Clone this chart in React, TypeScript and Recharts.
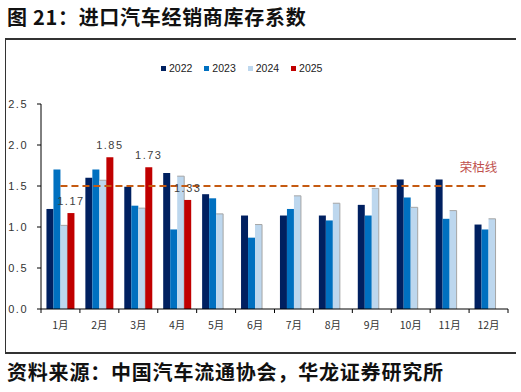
import React from 'react';
import {
  BarChart,
  Bar,
  XAxis,
  YAxis,
  ReferenceLine,
  LabelList,
  Legend
} from 'recharts';

const months = ['1月', '2月', '3月', '4月', '5月', '6月', '7月', '8月', '9月', '10月', '11月', '12月'];
const v2022 = [1.22, 1.6, 1.49, 1.66, 1.4, 1.14, 1.14, 1.14, 1.27, 1.58, 1.58, 1.03];
const v2023 = [1.7, 1.7, 1.26, 0.97, 1.35, 0.87, 1.22, 1.08, 1.14, 1.36, 1.1, 0.97];
const v2024 = [1.02, 1.57, 1.23, 1.62, 1.16, 1.03, 1.38, 1.29, 1.47, 1.24, 1.2, 1.1];
const v2025 = [1.17, 1.85, 1.73, 1.33];
const yTicks = [0, 0.5, 1, 1.5, 2, 2.5];
const threshold = 1.5;

const series = [
  { key: 'y2022', name: '2022', color: '#002060' },
  { key: 'y2023', name: '2023', color: '#0070C0' },
  { key: 'y2024', name: '2024', color: '#BDD7EE' },
  { key: 'y2025', name: '2025', color: '#C00000' }
];

const data = months.map((m, i) => ({
  month: m,
  y2022: v2022[i],
  y2023: v2023[i],
  y2024: v2024[i],
  y2025: i < v2025.length ? v2025[i] : null
}));

const W = 521;
const H = 392;
const margin = { top: 92, right: 13, bottom: 53, left: 8 };
const Y_AXIS_W = 33;
const band = (W - margin.left - margin.right - Y_AXIS_W) / months.length;

const MonthTick = ({ x, y, payload, index }: any) => {
  const left = x - band / 2;
  return (
    <g>
      <line x1={left} y1={y} x2={left} y2={y + 4} stroke="#000" />
      {index === months.length - 1 && (
        <line x1={x + band / 2} y1={y} x2={x + band / 2} y2={y + 4} stroke="#000" />
      )}
      <text x={x} y={y + 20} textAnchor="middle" fontSize={10.5} fill="#333"
        fontFamily="'Noto Sans CJK SC', sans-serif">
        {payload.value}
      </text>
    </g>
  );
};

const ValueTick = ({ x, y, payload }: any) => (
  <text x={x} y={y + 4} textAnchor="end" fontSize={11} fill="#333" letterSpacing={1.5}>
    {Number(payload.value).toFixed(1)}
  </text>
);

// light bars in the source have a grey edge on top and right
const LightBar = ({ x, y, width, height, fill }: any) => {
  if (!height || height <= 0) return null;
  return (
    <g>
      <rect x={x} y={y} width={width} height={height} fill={fill} />
      <path d={`M${x},${y} H${x + width} V${y + height}`} stroke="#A6A6A6" fill="none" />
    </g>
  );
};

const LegendBox = () => (
  <div style={{ display: 'flex', fontSize: 10.5, color: '#222', lineHeight: '12px' }}>
    {series.map((s) => (
      <div key={s.key} style={{ display: 'flex', alignItems: 'center', marginRight: 12 }}>
        <div style={{ width: 5, height: 5, background: s.color, marginRight: 3 }} />
        <span>{s.name}</span>
      </div>
    ))}
  </div>
);

const ThresholdLabel = (props: any) => {
  const vb = props.viewBox || { x: 60, y: 178, width: 428 };
  return (
    <text x={vb.x + vb.width - 10} y={vb.y - 14} textAnchor="middle" fontSize={12.5}
      fill="#C0504D" fontFamily="'Noto Sans CJK SC', sans-serif">
      荣枯线
    </text>
  );
};

export default function App() {
  return (
    <div style={{ position: 'absolute', left: 0, top: 0, width: W, height: H, background: '#fff',
      fontFamily: "'Liberation Sans', Arial, sans-serif" }}>
      <div style={{ position: 'absolute', left: 7, top: 2, fontSize: 20, fontWeight: 'bold',
        letterSpacing: 0.7, fontFamily: "'Noto Sans CJK SC', sans-serif", color: '#111', whiteSpace: 'nowrap' }}>
        图 21：进口汽车经销商库存系数
      </div>
      <div style={{ position: 'absolute', left: 5, top: 38, width: 510, height: 312,
        borderTop: '2px solid #333', borderLeft: '1.5px solid #333', borderBottom: '2px solid #333' }} />
      <div style={{ position: 'absolute', left: 0, top: 0 }}>
        <BarChart width={W} height={H} data={data} margin={margin}
          barCategoryGap="14%" barGap={0}>
          <XAxis dataKey="month" axisLine={{ stroke: '#000' }} tickLine={false}
            tickSize={0} tickMargin={0} interval={0} tick={<MonthTick />} height={30} />
          <YAxis domain={[0, 2.5]} ticks={yTicks} width={Y_AXIS_W}
            axisLine={{ stroke: '#000' }} tickLine={{ stroke: '#000' }} tickSize={4}
            tickMargin={9} tick={<ValueTick />} />
          <Legend content={<LegendBox />} verticalAlign="top"
            wrapperStyle={{ position: 'absolute', top: 62, left: 161, width: 'auto' }} />
          <Bar dataKey="y2022" name="2022" fill="#002060" isAnimationActive={false} />
          <Bar dataKey="y2023" name="2023" fill="#0070C0" isAnimationActive={false} />
          <Bar dataKey="y2024" name="2024" fill="#BDD7EE" shape={<LightBar />} isAnimationActive={false} />
          <Bar dataKey="y2025" name="2025" fill="#C00000" isAnimationActive={false}>
            <LabelList dataKey="y2025" position="top" offset={8} fontSize={11} fill="#404040"
              letterSpacing={1.5} formatter={(v: any) => (v == null ? '' : Number(v).toFixed(2))} />
          </Bar>
          <ReferenceLine
            segment={[{ x: months[0], y: threshold }, { x: months[months.length - 1], y: threshold }]}
            stroke="#C55A11" strokeWidth={2} strokeDasharray="7 4"
            label={<ThresholdLabel />}
          />
        </BarChart>
      </div>
      <div style={{ position: 'absolute', left: 7, top: 357, fontSize: 20, fontWeight: 'bold',
        letterSpacing: 0.8, fontFamily: "'Noto Sans CJK SC', sans-serif", color: '#111', whiteSpace: 'nowrap' }}>
        资料来源：中国汽车流通协会，华龙证券研究所
      </div>
    </div>
  );
}
